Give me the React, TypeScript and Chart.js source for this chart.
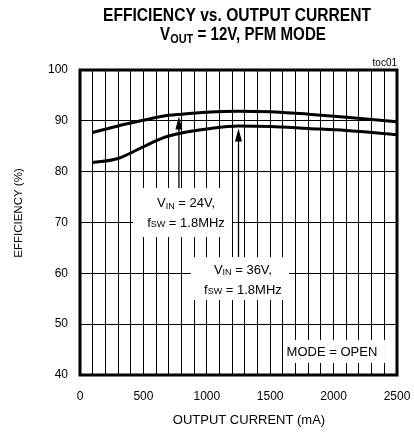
import React, { useEffect, useRef } from "react";
import { Chart, registerables } from "chart.js";

Chart.register(...registerables);

// ---- data ----
const CURRENT_MA = [100, 300, 500, 650, 800, 1000, 1250, 1500, 1800, 2100, 2500];
const EFF_VIN_24V = [87.7, 89.0, 90.1, 90.9, 91.3, 91.7, 91.9, 91.8, 91.3, 90.7, 89.8];
const EFF_VIN_36V = [81.8, 82.6, 84.9, 86.6, 87.6, 88.4, 89.0, 88.9, 88.5, 88.1, 87.3];
const X_MIN = 0;
const X_MAX = 2500;
const X_STEP = 100;
const X_LABEL_EVERY = 500;
const Y_MIN = 40;
const Y_MAX = 100;
const Y_STEP = 10;

// annotation anchors in data coordinates
const ARROW_24V = { x: 780, tip: 90.85, tail: 76.8 };
const ARROW_36V = { x: 1250, tip: 88.5, tail: 63.2 };
const BOX_24V = { x0: 418, x1: 1199, y0: 76.8, y1: 67.15 };
const BOX_36V = { x0: 875, x1: 1648, y0: 63.2, y1: 54.75 };
const BOX_MODE = { x0: 1601, x1: 2405, y0: 46.9, y1: 42.36 };
const TEXT_24V = { x: 836, y1: 73.83, y2: 69.9 };
const TEXT_36V = { x: 1285, y1: 60.66, y2: 56.72 };
const TEXT_MODE = { x: 1987, y: 44.52 };

const FONT = "'Liberation Sans', Arial, sans-serif";

type Seg = { t: string; size: number; dy?: number; bold?: boolean };

function drawSegs(ctx: CanvasRenderingContext2D, segs: Seg[], cx: number, cy: number, sx = 1) {
  let total = 0;
  const widths: number[] = [];
  for (const s of segs) {
    ctx.font = `${s.bold ? "bold " : ""}${s.size}px ${FONT}`;
    const w = ctx.measureText(s.t).width;
    widths.push(w);
    total += w;
  }
  ctx.save();
  ctx.translate(cx, cy);
  ctx.scale(sx, 1);
  let x = -total / 2;
  ctx.textAlign = "left";
  ctx.textBaseline = "middle";
  segs.forEach((s, i) => {
    ctx.font = `${s.bold ? "bold " : ""}${s.size}px ${FONT}`;
    ctx.fillText(s.t, x, s.dy || 0);
    x += widths[i];
  });
  ctx.restore();
}

const decorPlugin = {
  id: "decor",
  beforeDatasetsDraw(chart: any) {
    const { ctx, scales } = chart;
    const xs = scales.x;
    const ys = scales.y;
    ctx.save();
    ctx.fillStyle = "#fff";
    for (const b of [BOX_24V, BOX_36V, BOX_MODE]) {
      const x0 = xs.getPixelForValue(b.x0);
      const x1 = xs.getPixelForValue(b.x1);
      const y0 = ys.getPixelForValue(b.y0);
      const y1 = ys.getPixelForValue(b.y1);
      ctx.fillRect(x0, y0, x1 - x0, y1 - y0);
    }
    ctx.restore();
  },
  afterDatasetsDraw(chart: any) {
    const { ctx, scales, chartArea } = chart;
    const xs = scales.x;
    const ys = scales.y;
    ctx.save();
    ctx.fillStyle = "#000";
    ctx.strokeStyle = "#000";

    // arrows
    for (const a of [ARROW_24V, ARROW_36V]) {
      const x = xs.getPixelForValue(a.x);
      const yt = ys.getPixelForValue(a.tip);
      const yb = ys.getPixelForValue(a.tail);
      ctx.lineWidth = 1.3;
      ctx.beginPath();
      ctx.moveTo(x, yb);
      ctx.lineTo(x, yt + 8);
      ctx.stroke();
      ctx.beginPath();
      ctx.moveTo(x, yt);
      ctx.lineTo(x - 3.5, yt + 13);
      ctx.lineTo(x + 3.5, yt + 13);
      ctx.closePath();
      ctx.fill();
    }

    // frame
    ctx.lineWidth = 3;
    ctx.strokeRect(chartArea.left, chartArea.top, chartArea.right - chartArea.left, chartArea.bottom - chartArea.top);

    // annotation text
    drawSegs(ctx, [
      { t: "V", size: 13 },
      { t: "IN", size: 9, dy: 3 },
      { t: " = 24V,", size: 13 },
    ], xs.getPixelForValue(TEXT_24V.x), ys.getPixelForValue(TEXT_24V.y1));
    drawSegs(ctx, [
      { t: "f", size: 13 },
      { t: "SW", size: 9, dy: 2 },
      { t: " = 1.8MHz", size: 13 },
    ], xs.getPixelForValue(TEXT_24V.x), ys.getPixelForValue(TEXT_24V.y2));
    drawSegs(ctx, [
      { t: "V", size: 13 },
      { t: "IN", size: 9, dy: 3 },
      { t: " = 36V,", size: 13 },
    ], xs.getPixelForValue(TEXT_36V.x), ys.getPixelForValue(TEXT_36V.y1));
    drawSegs(ctx, [
      { t: "f", size: 13 },
      { t: "SW", size: 9, dy: 2 },
      { t: " = 1.8MHz", size: 13 },
    ], xs.getPixelForValue(TEXT_36V.x), ys.getPixelForValue(TEXT_36V.y2));
    drawSegs(ctx, [{ t: "MODE = OPEN", size: 13 }],
      xs.getPixelForValue(TEXT_MODE.x), ys.getPixelForValue(TEXT_MODE.y));

    // titles (condensed bold)
    drawSegs(ctx, [{ t: "EFFICIENCY vs. OUTPUT CURRENT", size: 18, bold: true }], 237, 16, 0.867);
    drawSegs(ctx, [
      { t: "V", size: 18, bold: true },
      { t: "OUT", size: 13, bold: true, dy: 4 },
      { t: " = 12V, PFM MODE", size: 18, bold: true },
    ], 243, 35, 0.84);

    // toc label
    ctx.font = `10px ${FONT}`;
    ctx.textAlign = "right";
    ctx.textBaseline = "middle";
    ctx.fillText("toc01", chartArea.right, chartArea.top - 7);

    // axis titles
    ctx.font = `13px ${FONT}`;
    ctx.textAlign = "center";
    ctx.fillText("OUTPUT CURRENT (mA)", 249, 420);
    ctx.save();
    ctx.translate(19, 213);
    ctx.rotate(-Math.PI / 2);
    ctx.font = `11.5px ${FONT}`;
    ctx.fillText("EFFICIENCY (%)", 0, 0);
    ctx.restore();

    ctx.restore();
  },
};

export default function App() {
  const ref = useRef<HTMLCanvasElement>(null);
  useEffect(() => {
    if (!ref.current) return;
    const chart = new Chart(ref.current, {
      type: "line",
      data: {
        labels: CURRENT_MA,
        datasets: [
          {
            label: "VIN = 24V",
            data: CURRENT_MA.map((x, i) => ({ x, y: EFF_VIN_24V[i] })),
            borderColor: "#000",
            borderWidth: 3,
            pointRadius: 0,
            cubicInterpolationMode: "monotone",
            fill: false,
          },
          {
            label: "VIN = 36V",
            data: CURRENT_MA.map((x, i) => ({ x, y: EFF_VIN_36V[i] })),
            borderColor: "#000",
            borderWidth: 3,
            pointRadius: 0,
            cubicInterpolationMode: "monotone",
            fill: false,
          },
        ],
      },
      options: {
        animation: false,
        responsive: false,
        devicePixelRatio: 1,
        layout: { padding: { left: 0, top: 70, right: 17, bottom: 0 } },
        plugins: { legend: { display: false }, tooltip: { enabled: false }, title: { display: false } },
        scales: {
          x: {
            type: "linear",
            min: X_MIN,
            max: X_MAX,
            afterFit: (s: any) => { s.height = 58; s.paddingLeft = 0; s.paddingRight = 0; },
            ticks: {
              stepSize: X_STEP,
              autoSkip: false,
              maxRotation: 0,
              maxTicksLimit: 100,
              padding: 14,
              color: "#000",
              font: { family: FONT, size: 12 },
              callback: (v: any) => (Number(v) % X_LABEL_EVERY === 0 ? String(v) : ""),
            },
            grid: { color: "#000", lineWidth: 1, drawTicks: false },
            border: { display: false },
          },
          y: {
            min: Y_MIN,
            max: Y_MAX,
            afterFit: (s: any) => { s.width = 80; s.paddingTop = 0; s.paddingBottom = 0; },
            ticks: {
              stepSize: Y_STEP,
              padding: 12,
              color: "#000",
              font: { family: FONT, size: 12 },
            },
            grid: { color: "#000", lineWidth: 1, drawTicks: false },
            border: { display: false },
          },
        },
      },
      plugins: [decorPlugin],
    } as any);
    return () => chart.destroy();
  }, []);
  return (
    <div style={{ position: "fixed", left: 0, top: 0, width: 414, height: 433, background: "#fff" }}>
      <canvas ref={ref} width={414} height={433} style={{ width: 414, height: 433 }} />
    </div>
  );
}
